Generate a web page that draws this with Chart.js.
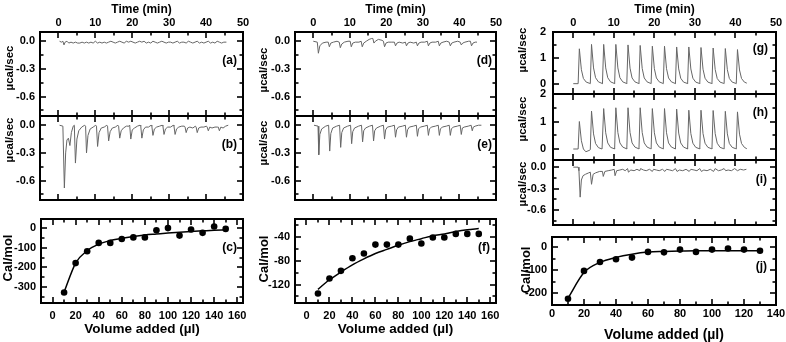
<!DOCTYPE html>
<html>
<head>
<meta charset="utf-8">
<script src="https://cdn.jsdelivr.net/npm/chart.js@4.4.1/dist/chart.umd.min.js"></script>
<style>
  html, body { margin: 0; padding: 0; background: #fff; }
  #fig { position: relative; width: 786px; height: 342px; overflow: hidden; }
  #fig canvas { position: absolute; }
</style>
</head>
<body>
<div id="fig"></div>
<script>
/** ITC figure: raw thermograms (a,b,d,e,g,h,i) and integrated heats (c,f,j) **/

var FONT = "'Liberation Sans', Arial, sans-serif";

// raw traces, [time (min), µcal/sec]
var traceA = [[0.3,0],[0.8,-0.01],[1.2,0.0],[1.5,-0.04],[1.8,-0.01],[2.3,0.0],[2.8,-0.02],[3.4,-0.01],[4.0,-0.02],[4.6,-0.01],[5.2,-0.02],[5.8,-0.02],[6.4,-0.01],[7.0,-0.02],[7.6,-0.01],[8.2,-0.02],[8.8,-0.01],[9.4,-0.02],[10.0,0.0],[10.6,-0.02],[11.2,-0.01],[11.8,-0.02],[12.4,-0.01],[13.0,-0.02],[13.6,-0.01],[14.2,0.0],[14.8,-0.01],[15.4,-0.02],[16.0,-0.01],[16.6,0.0],[17.2,-0.01],[17.8,-0.02],[18.4,0.0],[19.0,-0.01],[19.6,0.0],[20.2,-0.01],[20.8,-0.02],[21.4,-0.01],[22.0,0.0],[22.6,-0.01],[23.2,0.0],[23.8,-0.02],[24.4,-0.01],[25.0,-0.02],[25.6,0.0],[26.2,-0.01],[26.8,-0.02],[27.4,-0.01],[28.0,0.0],[28.6,-0.01],[29.2,-0.02],[29.8,-0.01],[30.4,-0.01],[31.0,-0.02],[31.6,-0.01],[32.2,0.0],[32.8,-0.02],[33.4,-0.01],[34.0,-0.01],[34.6,-0.02],[35.2,0.0],[35.8,-0.01],[36.4,-0.02],[37.0,-0.01],[37.6,0.0],[38.2,-0.02],[38.8,-0.01],[39.4,-0.02],[40.0,-0.01],[40.6,0.0],[41.2,-0.02],[41.8,-0.01],[42.4,-0.02],[43.0,0.0],[43.6,-0.01],[44.2,-0.02],[44.8,-0.01],[45.5,-0.01]];

var traceB = [[0.3,0.0],[1.2,-0.01],[1.6,-0.68],[1.95,-0.3],[2.3,-0.16],[2.7,-0.14],[3.1,-0.22],[3.5,-0.08],[4.0,-0.01],
  [4.3,0.0],[4.6,-0.41],[5.0,-0.15],[5.5,-0.06],[6.3,-0.02],[7.1,0.0],
  [7.35,-0.01],[7.6,-0.30],[8.0,-0.11],[8.6,-0.04],[9.4,-0.02],[10.1,0.0],
  [10.3,-0.01],[10.6,-0.23],[11.0,-0.08],[11.6,-0.03],[12.4,-0.02],[13.1,0.0],
  [13.3,-0.01],[13.6,-0.17],[14.0,-0.07],[14.6,-0.03],[15.4,-0.02],[16.1,0.0],
  [16.3,-0.01],[16.6,-0.14],[17.0,-0.06],[17.6,-0.03],[18.4,-0.01],[19.1,-0.01],
  [19.3,0.0],[19.6,-0.15],[20.0,-0.05],[20.6,-0.03],[21.4,-0.01],[22.1,0.0],
  [22.3,-0.01],[22.6,-0.14],[23.0,-0.05],[23.6,-0.02],[24.4,-0.02],[25.1,0.0],
  [25.3,-0.01],[25.6,-0.11],[26.0,-0.04],[26.6,-0.02],[27.4,-0.01],[28.1,0.0],
  [28.3,-0.01],[28.6,-0.10],[29.0,-0.04],[29.6,-0.02],[30.4,-0.02],[31.1,0.0],
  [31.3,-0.01],[31.6,-0.10],[32.0,-0.04],[32.6,-0.02],[33.4,-0.01],[34.1,-0.01],
  [34.3,-0.02],[34.6,-0.08],[35.0,-0.03],[35.6,-0.02],[36.4,-0.03],[37.1,-0.01],
  [37.3,-0.02],[37.6,-0.08],[38.0,-0.03],[38.6,-0.02],[39.4,-0.02],[40.1,-0.01],
  [40.3,-0.02],[40.6,-0.06],[41.0,-0.02],[41.6,-0.03],[42.4,-0.02],[43.1,-0.02],
  [43.3,-0.02],[43.6,-0.06],[44.0,-0.02],[44.6,-0.03],[45.3,-0.01],[46.0,0.0]];

var traceD = [[0,0.0],[1.1,-0.01],[1.4,-0.13],[1.8,-0.05],[2.5,-0.02],[3.5,-0.01],
  [4.1,-0.01],[4.4,-0.06],[4.8,-0.02],[5.5,-0.01],[6.5,0.0],
  [7.1,-0.01],[7.4,-0.07],[7.8,-0.03],[8.5,-0.01],[9.5,0.0],
  [10.1,0.0],[10.4,-0.06],[10.8,-0.02],[11.5,-0.01],[12.5,-0.01],
  [13.1,0.0],[13.4,-0.06],[13.8,-0.02],[14.5,0.0],[15.3,0.02],[16.0,0.03],[16.3,0.03],
  [16.6,-0.02],[17.0,0.0],[17.8,0.02],[18.8,0.01],[19.2,0.0],
  [19.5,-0.06],[19.9,-0.02],[20.5,-0.01],[21.5,-0.01],[22.2,-0.01],
  [22.5,-0.05],[22.9,-0.02],[23.5,-0.01],[24.5,-0.02],[25.2,-0.01],
  [25.5,-0.05],[25.9,-0.02],[26.5,-0.01],[27.5,-0.02],[28.2,-0.01],
  [28.5,-0.05],[28.9,-0.02],[29.5,-0.01],[30.5,-0.01],[31.2,0.0],
  [31.5,-0.05],[31.9,-0.02],[32.5,-0.01],[33.5,-0.01],[34.2,0.0],
  [34.5,-0.05],[34.9,-0.02],[35.5,-0.01],[36.5,0.0],[37.2,-0.01],
  [37.5,-0.05],[37.9,-0.02],[38.5,-0.01],[39.5,0.0],[40.2,-0.01],
  [40.5,-0.04],[40.9,-0.02],[41.5,-0.01],[42.5,0.0],[43.0,0.0],
  [43.3,-0.05],[43.7,-0.02],[44.3,-0.01],[44.8,-0.01]];

var traceE = [[0.2,0.0],[1.3,-0.01],[1.5,-0.32],[1.8,-0.10],[2.3,-0.04],[3.4,-0.01],[4.2,0.0],
  [4.5,-0.28],[4.8,-0.09],[5.3,-0.03],[6.4,-0.01],[7.2,0.0],
  [7.5,-0.24],[7.8,-0.08],[8.3,-0.03],[9.4,-0.01],[10.2,0.0],
  [10.5,-0.20],[10.8,-0.07],[11.3,-0.03],[12.4,-0.01],[13.2,0.0],
  [13.5,-0.18],[13.8,-0.06],[14.3,-0.03],[15.4,-0.01],[16.2,0.0],
  [16.5,-0.17],[16.8,-0.06],[17.3,-0.03],[18.4,-0.01],[19.2,0.0],
  [19.5,-0.15],[19.8,-0.05],[20.3,-0.02],[21.4,-0.01],[22.2,0.0],
  [22.5,-0.13],[22.8,-0.05],[23.3,-0.02],[24.4,-0.01],[25.2,0.0],
  [25.5,-0.13],[25.8,-0.05],[26.3,-0.02],[27.4,-0.01],[28.2,0.0],
  [28.5,-0.12],[28.8,-0.04],[29.3,-0.02],[30.4,-0.01],[31.2,0.0],
  [31.5,-0.11],[31.8,-0.04],[32.3,-0.02],[33.4,-0.01],[34.2,0.0],
  [34.5,-0.11],[34.8,-0.04],[35.3,-0.02],[36.4,-0.01],[37.2,0.0],
  [37.5,-0.11],[37.8,-0.04],[38.3,-0.02],[39.4,-0.01],[40.2,0.0],
  [40.5,-0.10],[40.8,-0.03],[41.3,-0.02],[42.4,-0.01],[43.2,0.0],
  [43.5,-0.06],[43.8,-0.02],[44.3,-0.01],[45.2,0.0],[46.0,0.0]];

var traceG = [[0,0],[1.2,0],[1.5,1.35],[2.0,0.54],[2.5,0.2],[3.2,0.06],[4.1,0.01],
  [4.2,0],[4.5,1.52],[5.0,0.61],[5.5,0.23],[6.2,0.07],[7.1,0.01],
  [7.2,0],[7.5,1.52],[8.0,0.61],[8.5,0.23],[9.2,0.07],[10.1,0.01],
  [10.2,0],[10.5,1.52],[11.0,0.61],[11.5,0.23],[12.2,0.07],[13.1,0.01],
  [13.2,0],[13.5,1.5],[14.0,0.6],[14.5,0.22],[15.2,0.07],[16.1,0.01],
  [16.2,0],[16.5,1.48],[17.0,0.59],[17.5,0.22],[18.2,0.07],[19.1,0.01],
  [19.2,0],[19.5,1.45],[20.0,0.58],[20.5,0.22],[21.2,0.07],[22.1,0.01],
  [22.2,0],[22.5,1.45],[23.0,0.58],[23.5,0.22],[24.2,0.07],[25.1,0.01],
  [25.2,0],[25.5,1.42],[26.0,0.57],[26.5,0.21],[27.2,0.06],[28.1,0.01],
  [28.2,0],[28.5,1.42],[29.0,0.57],[29.5,0.21],[30.2,0.06],[31.1,0.01],
  [31.2,0],[31.5,1.4],[32.0,0.56],[32.5,0.21],[33.2,0.06],[34.1,0.01],
  [34.2,0],[34.5,1.38],[35.0,0.55],[35.5,0.2],[36.2,0.06],[37.1,0.01],
  [37.2,0],[37.5,1.36],[38.0,0.54],[38.5,0.2],[39.2,0.06],[40.1,0.01],
  [40.2,0],[40.5,1.32],[41.0,0.53],[41.5,0.2],[42.2,0.06],[42.8,0.02]];

var traceH = [[0,0],[1.2,0],[1.5,1.0],[2.0,0.3],[2.5,0.0],[3.1,-0.1],[4.1,-0.04],
  [4.2,-0.02],[4.5,1.38],[5.0,0.55],[5.5,0.2],[6.2,0.05],[7.1,0.0],
  [7.2,0],[7.5,1.47],[8.0,0.59],[8.5,0.22],[9.2,0.06],[10.1,0.01],
  [10.2,0],[10.5,1.5],[11.0,0.6],[11.5,0.22],[12.2,0.07],[13.1,0.01],
  [13.2,0],[13.5,1.5],[14.0,0.6],[14.5,0.22],[15.2,0.07],[16.1,0.01],
  [16.2,0],[16.5,1.5],[17.0,0.6],[17.5,0.22],[18.2,0.07],[19.1,0.01],
  [19.2,0],[19.5,1.47],[20.0,0.59],[20.5,0.22],[21.2,0.07],[22.1,0.01],
  [22.2,0],[22.5,1.47],[23.0,0.59],[23.5,0.22],[24.2,0.07],[25.1,0.01],
  [25.2,0],[25.5,1.45],[26.0,0.58],[26.5,0.22],[27.2,0.07],[28.1,0.01],
  [28.2,0],[28.5,1.41],[29.0,0.56],[29.5,0.21],[30.2,0.06],[31.1,0.01],
  [31.2,0],[31.5,1.41],[32.0,0.56],[32.5,0.21],[33.2,0.06],[34.1,0.01],
  [34.2,0],[34.5,1.4],[35.0,0.56],[35.5,0.21],[36.2,0.06],[37.1,0.01],
  [37.2,0],[37.5,1.37],[38.0,0.55],[38.5,0.2],[39.2,0.06],[40.1,0.01],
  [40.2,0],[40.5,1.35],[41.0,0.54],[41.5,0.2],[42.2,0.06],[42.8,0.01]];

var traceI = [[0,0.0],[1.2,0.0],[1.4,-0.05],[1.7,-0.42],[2.0,-0.18],[2.4,-0.12],[3.0,-0.1],[3.8,-0.08],[4.2,-0.07],[4.5,-0.24],[4.9,-0.1],[5.5,-0.08],[6.5,-0.06],[7.2,-0.06],[7.4,-0.13],[7.8,-0.06],[8.6,-0.05],[9.5,-0.04],[10.1,-0.03],[10.3,-0.12],[10.7,-0.05],[11.5,-0.04],[12.2,-0.03],[12.8,-0.05],[13.4,-0.02],[13.6,-0.07],[14.2,-0.04],[15.0,-0.05],[15.7,-0.03],[16.4,-0.05],[16.6,-0.02],[17.3,-0.04],[18.0,-0.05],[18.8,-0.03],[19.5,-0.06],[19.8,-0.03],[20.5,-0.04],[21.2,-0.05],[22.0,-0.03],[22.6,-0.06],[23.0,-0.03],[23.8,-0.04],[24.5,-0.05],[25.2,-0.02],[25.6,-0.06],[26.2,-0.04],[27.0,-0.05],[27.8,-0.03],[28.6,-0.06],[29.0,-0.03],[29.8,-0.04],[30.5,-0.05],[31.2,-0.02],[31.6,-0.06],[32.2,-0.04],[33.0,-0.05],[33.8,-0.03],[34.6,-0.06],[35.0,-0.02],[35.8,-0.05],[36.5,-0.04],[37.2,-0.02],[37.6,-0.05],[38.2,-0.04],[39.0,-0.05],[39.8,-0.02],[40.5,-0.05],[41.2,-0.03],[42.0,-0.04],[42.7,-0.03]];

// integrated heats
var volC = [10,20,30,40,50,60,70,80,90,100,110,120,130,140,150];
var heatC = [-327,-178,-118,-76,-76,-56,-48,-48,-12,-1,-39,-8,-25,7,-5];
var fitC = [-325,-178,-115,-82,-64,-52,-43,-36,-31,-26,-22,-18,-15,-12,-10];

var volF = [10,20,30,40,50,60,70,80,90,100,110,120,130,140,150];
var heatF = [-135,-110,-97,-76,-68,-53,-53,-53,-43,-51,-41,-41,-35,-35,-35];
var fitF = [-128,-112,-99,-87,-77,-68,-61,-54,-48,-43,-38,-35,-31,-28,-26];

var volJ = [10,20,30,40,50,60,70,80,90,100,110,120,130];
var heatJ = [-225,-103,-64,-52,-45,-20,-22,-10,-20,-10,-5,-10,-15];
var fitJ = [-222,-110,-66,-44,-30,-21,-18,-16,-15,-15,-15,-15,-15];

Chart.defaults.font.family = FONT;
Chart.defaults.font.weight = 'bold';
Chart.defaults.color = '#000';

// tick marks pointing inwards, at each scale's own tick values
var inTicks = {
  id: 'inTicks',
  afterDraw: function (chart, args, o) {
    var a = chart.chartArea, ctx = chart.ctx;
    ctx.save();
    ctx.strokeStyle = '#000';
    ctx.lineWidth = 1.6;
    var ids = Object.keys(chart.scales);
    for (var n = 0; n < ids.length; n++) {
      var s = chart.scales[ids[n]];
      var step = s.isHorizontal() ? o.mx : o.my;
      var ticks = s.ticks || [];
      for (var i = 0; i < ticks.length; i++) {
        var v = ticks[i].value;
        var p = Math.round(s.getPixelForValue(v));
        var k = v / step;
        var len = Math.abs(k - Math.round(k)) < 1e-6 ? 6 : 3.5;
        ctx.beginPath();
        if (s.position === 'top') { ctx.moveTo(p, a.top); ctx.lineTo(p, a.top + len); }
        else if (s.position === 'bottom') { ctx.moveTo(p, a.bottom); ctx.lineTo(p, a.bottom - len); }
        else if (s.position === 'left') { ctx.moveTo(a.left, p); ctx.lineTo(a.left + len, p); }
        else { ctx.moveTo(a.right, p); ctx.lineTo(a.right - len, p); }
        ctx.stroke();
      }
    }
    ctx.restore();
  }
};

// panel letter and rotated y title
var panelText = {
  id: 'panelText',
  afterDraw: function (chart, args, o) {
    var a = chart.chartArea, ctx = chart.ctx;
    ctx.save();
    ctx.fillStyle = '#000';
    ctx.textBaseline = 'middle';
    ctx.font = 'bold 12px ' + FONT;
    ctx.textAlign = 'right';
    ctx.fillText(o.tag, a.right - o.dx, a.top + o.dy);
    ctx.font = 'bold ' + o.ysize + 'px ' + FONT;
    ctx.textAlign = 'center';
    ctx.translate(o.yx, o.yy);
    ctx.rotate(-Math.PI / 2);
    ctx.fillText(o.ytitle, 0, 0);
    ctx.restore();
  }
};
Chart.register(inTicks, panelText);

function addCanvas(x, y, w, h) {
  var c = document.createElement('canvas');
  c.width = w; c.height = h;
  c.style.left = x + 'px'; c.style.top = y + 'px';
  c.style.width = w + 'px'; c.style.height = h + 'px';
  document.getElementById('fig').appendChild(c);
  return c;
}

function fixed(size) {
  return function (s) {
    if (s.isHorizontal()) s.height = size; else s.width = size;
    s.paddingLeft = 0; s.paddingRight = 0; s.paddingTop = 0; s.paddingBottom = 0;
  };
}

// one edge of a panel frame
function ax(pos, min, max, step, size, labels, extra) {
  extra = extra || {};
  return {
    type: 'linear', position: pos, min: min, max: max,
    afterFit: fixed(size),
    border: { display: true, color: '#000', width: 2 },
    grid: { drawOnChartArea: false, drawTicks: false },
    ticks: {
      display: !!labels, stepSize: step, includeBounds: false, autoSkip: false, maxRotation: 0,
      padding: extra.pad || 5, color: '#000',
      font: { family: FONT, size: 11, weight: 'bold' },
      callback: labels || function () { return ''; }
    },
    title: extra.title ? {
      display: true, text: extra.title, color: '#000',
      font: { family: FONT, size: extra.tsize || 11, weight: 'bold', lineHeight: 1 },
      padding: extra.tpad || 0
    } : { display: false }
  };
}

var timeLab = function (v) { return (v >= 0 && v % 10 === 0) ? v : ''; };
var powLab = function (v) { return Math.abs(v / 0.3 - Math.round(v / 0.3)) < 1e-6 ? v.toFixed(1) : ''; };
var wholeLab = function (v) { return Number.isInteger(v) ? v : ''; };
var volLab = function (v) { return (v >= 0 && v % 20 === 0) ? v : ''; };
var hundredLab = function (v) { return v % 100 === 0 ? v : ''; };
var fortyLab = function (v) { return v % 40 === 0 ? v : ''; };

function pts(trace) {
  return trace.map(function (p) { return { x: p[0], y: p[1] }; });
}
function pairs(xs, ys) {
  return xs.map(function (v, i) { return { x: v, y: ys[i] }; });
}

function traceSet(trace) {
  return [{ data: pts(trace), borderColor: '#666', borderWidth: 1, pointRadius: 0, tension: 0, fill: false }];
}
function heatSets(xs, ys, fit) {
  return [
    { data: pairs(xs, fit), borderColor: '#000', borderWidth: 1.5, pointRadius: 0, cubicInterpolationMode: 'monotone', fill: false },
    { data: pairs(xs, ys), showLine: false, pointRadius: 3.3, pointBackgroundColor: '#000', pointBorderColor: '#000', borderWidth: 0 }
  ];
}

function panel(box, datasets, scales, text, major) {
  var c = addCanvas(box[0], box[1], box[2], box[3]);
  return new Chart(c, {
    type: 'line',
    data: { datasets: datasets },
    options: {
      responsive: false, animation: false, devicePixelRatio: 1,
      layout: { padding: 0 },
      plugins: { legend: { display: false }, tooltip: { enabled: false }, inTicks: major, panelText: text },
      scales: scales
    }
  });
}

var timeTitle = { title: 'Time (min)', tsize: 12, tpad: { top: 4 }, pad: 2 };
var thermoMajor = { mx: 10, my: 0.3 };
var peakMajor = { mx: 10, my: 1 };

/*** left column ***/
panel([0, 0, 250, 118], traceSet(traceA), {
  x: ax('top', -5, 50, 5, 32, timeLab, timeTitle),
  x2: ax('bottom', -5, 50, 5, 2),
  y: ax('left', -0.81, 0.1, 0.15, 40, powLab),
  y2: ax('right', -0.81, 0.1, 0.15, 7)
}, { tag: '(a)', dx: 6, dy: 29, ytitle: 'µcal/sec', ysize: 11.5, yx: 10, yy: 68 }, thermoMajor);

panel([0, 114, 250, 90], traceSet(traceB), {
  x2: ax('top', -5, 50, 5, 2),
  x: ax('bottom', -5, 50, 5, 4),
  y: ax('left', -0.81, 0.1, 0.15, 40, powLab),
  y2: ax('right', -0.81, 0.1, 0.15, 7)
}, { tag: '(b)', dx: 6, dy: 29, ytitle: 'µcal/sec', ysize: 11.5, yx: 10, yy: 26 }, thermoMajor);

panel([0, 214, 250, 128], heatSets(volC, heatC, fitC), {
  x2: ax('top', -10, 165, 10, 5),
  x: ax('bottom', -10, 165, 10, 39, volLab, { title: 'Volume added (µl)', tsize: 13.5, tpad: { bottom: 6 }, pad: 6 }),
  y: ax('left', -380, 45, 50, 41, hundredLab),
  y2: ax('right', -380, 45, 50, 7)
}, { tag: '(c)', dx: 6, dy: 29, ytitle: 'Cal/mol', ysize: 13, yx: 8, yy: 44 }, { mx: 20, my: 100 });

/*** middle column ***/
panel([255, 0, 250, 118], traceSet(traceD), {
  x: ax('top', -5, 50, 5, 32, timeLab, timeTitle),
  x2: ax('bottom', -5, 50, 5, 2),
  y: ax('left', -0.81, 0.1, 0.15, 40, powLab),
  y2: ax('right', -0.81, 0.1, 0.15, 9)
}, { tag: '(d)', dx: 4, dy: 29, ytitle: 'µcal/sec', ysize: 11.5, yx: 9, yy: 70 }, thermoMajor);

panel([255, 114, 250, 90], traceSet(traceE), {
  x2: ax('top', -5, 50, 5, 2),
  x: ax('bottom', -5, 50, 5, 4),
  y: ax('left', -0.81, 0.1, 0.15, 40, powLab),
  y2: ax('right', -0.81, 0.1, 0.15, 9)
}, { tag: '(e)', dx: 4, dy: 29, ytitle: 'µcal/sec', ysize: 11.5, yx: 9, yy: 29 }, thermoMajor);

panel([255, 214, 250, 128], heatSets(volF, heatF, fitF), {
  x2: ax('top', -10, 165, 10, 5),
  x: ax('bottom', -10, 165, 10, 39, volLab, { title: 'Volume added (µl)', tsize: 13.5, tpad: { bottom: 6 }, pad: 6 }),
  y: ax('left', -151, -10, 20, 40, fortyLab),
  y2: ax('right', -151, -10, 20, 9)
}, { tag: '(f)', dx: 6, dy: 29, ytitle: 'Cal/mol', ysize: 13, yx: 9, yy: 45 }, { mx: 20, my: 40 });

/*** right column ***/
panel([515, 0, 271, 96], traceSet(traceG), {
  x: ax('top', -5, 50, 5, 32, timeLab, timeTitle),
  x2: ax('bottom', -5, 50, 5, 2),
  y: ax('left', -0.4, 2, 0.5, 38, wholeLab, { pad: 7 }),
  y2: ax('right', -0.4, 2, 0.5, 10)
}, { tag: '(g)', dx: 8, dy: 17, ytitle: 'µcal/sec', ysize: 11.5, yx: 8, yy: 50 }, peakMajor);

panel([515, 84, 271, 78], traceSet(traceH), {
  x2: ax('top', -5, 50, 5, 10),
  x: ax('bottom', -5, 50, 5, 2),
  y: ax('left', -0.4, 2, 0.5, 38, wholeLab, { pad: 7 }),
  y2: ax('right', -0.4, 2, 0.5, 10)
}, { tag: '(h)', dx: 8, dy: 19, ytitle: 'µcal/sec', ysize: 11.5, yx: 8, yy: 35 }, peakMajor);

panel([515, 158, 271, 71], traceSet(traceI), {
  x2: ax('top', -5, 50, 5, 2),
  x: ax('bottom', -5, 50, 5, 4),
  y: ax('left', -0.81, 0.1, 0.15, 38, powLab, { pad: 7 }),
  y2: ax('right', -0.81, 0.1, 0.15, 10)
}, { tag: '(i)', dx: 9, dy: 20, ytitle: 'µcal/sec', ysize: 11.5, yx: 8, yy: 26 }, thermoMajor);

panel([515, 232, 271, 110], heatSets(volJ, heatJ, fitJ), {
  x2: ax('top', 0, 140, 10, 5),
  x: ax('bottom', 0, 140, 10, 37, volLab, { title: 'Volume added (µl)', tsize: 14, tpad: { bottom: 0 }, pad: 2 }),
  y: ax('left', -252, 45, 50, 37, hundredLab),
  y2: ax('right', -252, 45, 50, 10)
}, { tag: '(j)', dx: 9, dy: 30, ytitle: 'Cal/mol', ysize: 13, yx: 11, yy: 38 }, { mx: 20, my: 100 });
</script>
</body>
</html>
